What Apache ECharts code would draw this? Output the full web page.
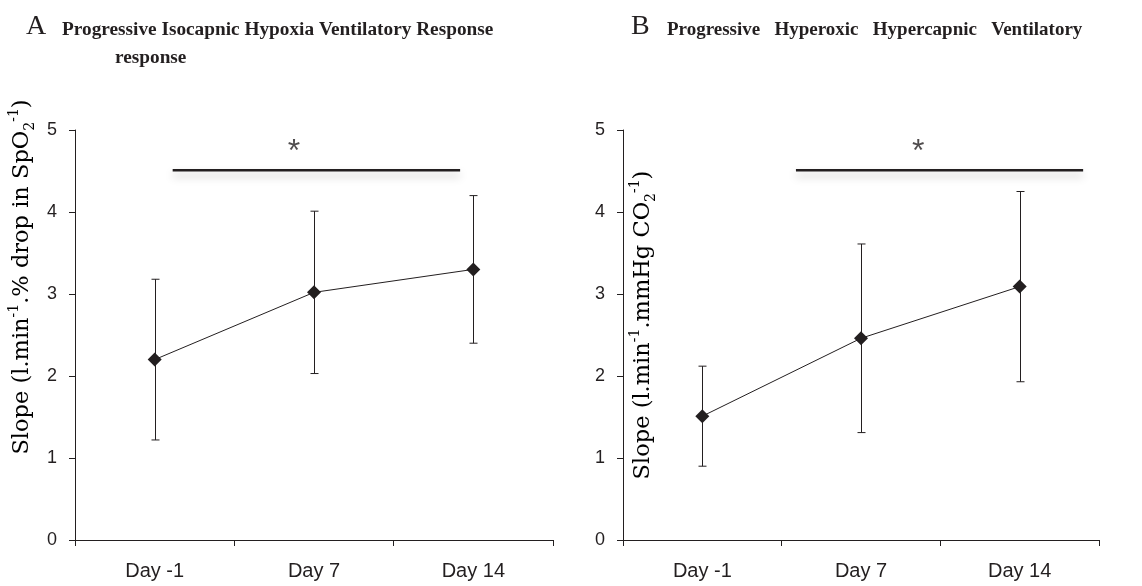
<!DOCTYPE html>
<html>
<head>
<meta charset="utf-8">
<script src="https://cdn.jsdelivr.net/npm/echarts@6/dist/echarts.min.js"></script>
<style>html,body{margin:0;padding:0;background:#fff;}#chart{width:1142px;height:586px;}</style>
</head>
<body>
<div id="chart"></div>
<script>
// ---- data ----
const days = ['Day -1', 'Day 7', 'Day 14'];
const yTicks = [0, 1, 2, 3, 4, 5];
// Panel A: hypoxia ventilatory response
const hvrMean = [2.20, 3.02, 3.30];
const hvrSD   = [0.98, 0.99, 0.90];
// Panel B: hypercapnic ventilatory response
const hcvrMean = [1.51, 2.46, 3.09];
const hcvrSD   = [0.61, 1.15, 1.16];
// significance bars (x in category units, y in slope units)
const sigAX = [0.113, 1.917];
const sigBX = [0.59, 2.40];
const sigY = 4.51;
const starAX = 0.875;
const starBX = 1.36;
const starY = 4.73;

const ink = '#231f20';
const sans = 'Liberation Sans, Arial, sans-serif';
const serif = 'Liberation Serif, Times New Roman, serif';
const nameFont = 'DejaVu Serif, serif';

const chart = echarts.init(document.getElementById('chart'), null, {renderer: 'canvas'});

function errData(mean, sd) {
  return mean.map((m, i) => [i, m - sd[i], m + sd[i]]);
}
function renderErr(params, api) {
  const x = api.value(0);
  const lo = api.coord([x, api.value(1)]);
  const hi = api.coord([x, api.value(2)]);
  const w = 4;
  const cx = Math.round(lo[0]) + 0.5;
  const st = {stroke: ink, lineWidth: 1};
  return {type: 'group', children: [
    {type: 'line', shape: {x1: cx, y1: lo[1], x2: cx, y2: hi[1]}, style: st},
    {type: 'line', shape: {x1: cx - w, y1: lo[1], x2: cx + w, y2: lo[1]}, style: st},
    {type: 'line', shape: {x1: cx - w, y1: hi[1], x2: cx + w, y2: hi[1]}, style: st}
  ]};
}

function catAxis(gi) {
  return {
    type: 'category', gridIndex: gi, data: days, boundaryGap: true,
    axisLine: {lineStyle: {color: ink, width: 1}},
    axisTick: {show: true, length: 6, lineStyle: {color: ink}},
    axisLabel: {color: ink, fontFamily: sans, fontSize: 20, margin: 21}
  };
}
function hiddenX(gi) {
  return {type: 'value', gridIndex: gi, min: -0.5, max: 2.5, show: false};
}
function hiddenY(gi) {
  return {type: 'value', gridIndex: gi, min: yTicks[0], max: yTicks[yTicks.length - 1], show: false};
}
function valAxis(gi) {
  return {
    type: 'value', gridIndex: gi, min: yTicks[0], max: yTicks[yTicks.length - 1], interval: 1,
    axisLine: {show: true, lineStyle: {color: ink, width: 1}},
    axisTick: {show: true, length: 6, lineStyle: {color: ink}},
    splitLine: {show: false},
    axisLabel: {color: ink, fontFamily: sans, fontSize: 18, margin: 18}
  };
}

const sigStyle = {color: ink, width: 2.5, shadowColor: 'rgba(0,0,0,0.25)', shadowBlur: 8, shadowOffsetY: 5};

const rich = {
  m: {fontFamily: nameFont, fontSize: 22.5, color: ink, lineHeight: 30},
  sup: {fontFamily: nameFont, fontSize: 14, color: ink, verticalAlign: 'top', lineHeight: 30},
  sub: {fontFamily: nameFont, fontSize: 14, color: ink, verticalAlign: 'bottom', lineHeight: 30}
};

const titleStyleA = {fontFamily: serif, fontSize: 19.3, fontWeight: 'bold', color: ink};
const titleStyleB = {fontFamily: serif, fontSize: 19, fontWeight: 'bold', color: ink};
const letterStyle = {fontFamily: serif, fontSize: 28, fontWeight: 'normal', color: ink};

const gridA = {left: 75, top: 130, width: 478, height: 410};
const gridB = {left: 623, top: 130, width: 476, height: 410};

const option = {
  animation: false,
  backgroundColor: '#ffffff',
  title: [
    {text: 'A', left: 26, top: 13, padding: 0, textStyle: letterStyle},
    {text: 'Progressive Isocapnic Hypoxia Ventilatory Response', left: 62, top: 21, padding: 0, textStyle: titleStyleA},
    {text: 'response', left: 115, top: 49, padding: 0, textStyle: titleStyleA},
    {text: 'B', left: 631, top: 13, padding: 0, textStyle: letterStyle},
    {text: 'Progressive   Hyperoxic   Hypercapnic   Ventilatory', left: 667, top: 21, padding: 0, textStyle: titleStyleB}
  ],
  grid: [gridA, gridB, Object.assign({}, gridA), Object.assign({}, gridB)],
  xAxis: [catAxis(0), catAxis(1), hiddenX(2), hiddenX(3)],
  yAxis: [valAxis(0), valAxis(1), hiddenY(2), hiddenY(3)],
  graphic: [
    {type: 'text', x: 22, y: 277, rotation: Math.PI / 2, silent: true,
     style: {text: '{m|Slope (l.min}{sup|-1}{m|.% drop in SpO}{sub|2}{sup|-1}{m|)}', rich: rich, align: 'center', verticalAlign: 'middle'}},
    {type: 'text', x: 643, y: 325, rotation: Math.PI / 2, silent: true,
     style: {text: '{m|Slope (l.min}{sup|-1}{m|.mmHg CO}{sub|2}{sup|-1}{m|)}', rich: rich, align: 'center', verticalAlign: 'middle'}}
  ],
  series: [
    {type: 'custom', xAxisIndex: 0, yAxisIndex: 0, renderItem: renderErr, data: errData(hvrMean, hvrSD), z: 2},
    {type: 'line', xAxisIndex: 0, yAxisIndex: 0, data: hvrMean, symbol: 'diamond', symbolSize: 14,
     lineStyle: {color: ink, width: 1}, itemStyle: {color: ink}, z: 3},
    {type: 'custom', xAxisIndex: 1, yAxisIndex: 1, renderItem: renderErr, data: errData(hcvrMean, hcvrSD), z: 2},
    {type: 'line', xAxisIndex: 1, yAxisIndex: 1, data: hcvrMean, symbol: 'diamond', symbolSize: 14,
     lineStyle: {color: ink, width: 1}, itemStyle: {color: ink}, z: 3},
    {type: 'line', xAxisIndex: 2, yAxisIndex: 2, data: sigAX.map(x => [x, sigY]), symbol: 'none', lineStyle: sigStyle},
    {type: 'line', xAxisIndex: 3, yAxisIndex: 3, data: sigBX.map(x => [x, sigY]), symbol: 'none', lineStyle: sigStyle},
    {type: 'scatter', xAxisIndex: 2, yAxisIndex: 2, data: [[starAX, starY]], symbolSize: 1, itemStyle: {color: 'rgba(0,0,0,0)'},
     label: {show: true, formatter: '*', position: 'inside', color: ink, fontFamily: sans, fontSize: 32}},
    {type: 'scatter', xAxisIndex: 3, yAxisIndex: 3, data: [[starBX, starY]], symbolSize: 1, itemStyle: {color: 'rgba(0,0,0,0)'},
     label: {show: true, formatter: '*', position: 'inside', color: ink, fontFamily: sans, fontSize: 32}}
  ]
};
chart.setOption(option);
</script>
</body>
</html>
